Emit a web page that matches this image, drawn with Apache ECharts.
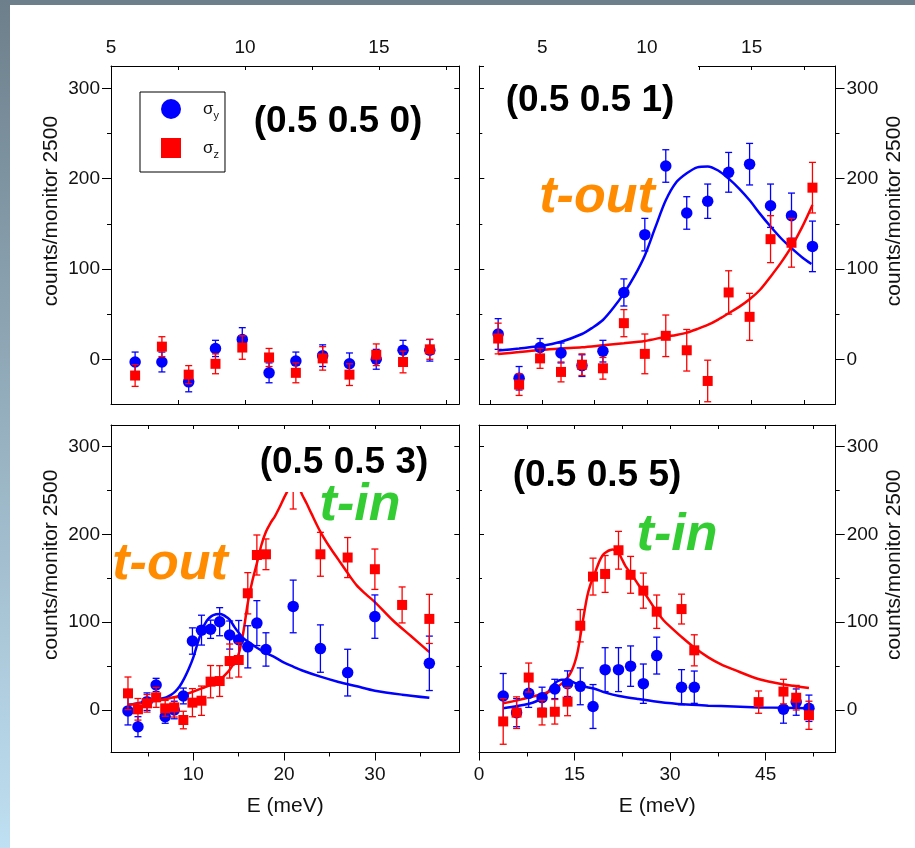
<!DOCTYPE html>
<html>
<head>
<meta charset="utf-8">
<title>σy / σz energy scans</title>
<script src="https://cdn.jsdelivr.net/npm/echarts@6.0.0/dist/echarts.min.js"></script>
<style>
html,body{margin:0;padding:0;background:#ffffff;}
#chart{width:915px;height:848px;}
</style>
</head>
<body>
<div id="chart"></div>
<script>
// ================= DATA =================
// Panel (0.5 0.5 0)
const tlE       = [5.9, 6.9, 7.9, 8.9, 9.9, 10.9, 11.9, 12.9, 13.9, 14.9, 15.9, 16.9];
const tlBlue    = [-3, -3, -25, 12, 22, -15, -2, 4, -5, 0, 10, 10];
const tlBlueErr = [11, 11, 11, 9, 13, 11, 10, 12, 12, 11, 11, 12];
const tlRed     = [-18, 14, -17, -5, 13, 2, -15, 1, -17, 5, -3, 11];
const tlRedErr  = [12, 11, 10, 11, 13, 10, 11, 13, 12, 12, 12, 11];

// Panel (0.5 0.5 1)
const trE       = [2.9, 3.9, 4.9, 5.9, 6.9, 7.9, 8.9, 9.9, 10.9, 11.9, 12.9, 13.9, 14.9, 15.9, 16.9, 17.9];
const trBlue    = [28, -21, 13, 7, -7, 9, 74, 138, 214, 162, 175, 207, 216, 170, 159, 125];
const trBlueErr = [17, 13, 10, 11, 12, 12, 15, 18, 18, 18, 19, 22, 23, 24, 25, 28];
const trRed     = [23, -28, 1, -14, -6, -10, 40, 6, 26, 10, -24, 74, 47, 133, 129, 190];
const trRedErr  = [17, 12, 11, 11, 12, 12, 15, 22, 23, 23, 23, 24, 26, 26, 27, 28];
const trBlueFitE = [2.9, 3.9, 4.9, 5.9, 6.9, 7.4, 7.9, 8.4, 8.9, 9.4, 9.9, 10.4, 10.9, 11.4, 11.9, 12.4, 12.9, 13.4, 13.9, 14.4, 14.9, 15.4, 15.9, 16.4, 16.9, 17.4, 17.85];
const trBlueFit  = [9.6, 12, 14.7, 19.5, 28, 35, 43.5, 57, 73, 92, 115, 146, 176, 196, 206, 212.5, 213.5, 209, 200, 189, 176, 161, 147, 134, 123, 113, 105.5];
const trRedFitE  = [2.9, 3.9, 4.9, 5.9, 6.9, 7.9, 8.9, 9.9, 10.9, 11.4, 11.9, 12.4, 12.9, 13.4, 13.9, 14.4, 14.9, 15.4, 15.9, 16.4, 16.9, 17.4, 17.9];
const trRedFit   = [5.9, 8, 10.3, 12, 13.3, 15.5, 17.7, 20.3, 25, 27, 29.5, 33.5, 38, 44, 51, 58, 66.4, 77, 91.5, 107, 124.7, 146, 170.8];

// Panel (0.5 0.5 3)
const blE       = [2.8, 3.9, 4.9, 5.9, 6.9, 7.9, 8.9, 9.9, 10.9, 11.9, 12.9, 14.0, 15.0, 16.0, 17.0, 18.0, 21.0, 24.0, 27.0, 30.0, 33.0, 36.0];
const blBlue    = [-1, -19, 9.5, 28.5, -7.5, 0, 16, 78.6, 91, 92, 100.6, 85.4, 80, 72, 99, 69, 118, 70, 42.6, 106.4, null, 53.2];
const blBlueErr = [16, 11.4, 10, 7.6, 7.6, 10, 9, 15, 17, 10.4, 16, 16, 22, 24, 25.6, 19, 30, 27, 26.6, 24.7, null, 31];
const blRed     = [19, 0.8, 7.6, 14.4, 1.9, 3, -11.4, 8.4, 10.6, 32.3, 33, 55.8, 57, 133, 176.6, 177.4, 258, 177.4, 173.7, 160.4, 119.7, 103.8];
const blRedErr  = [18.6, 12.3, 10, 11.4, 9, 11, 10, 16, 16.7, 18.4, 17.5, 19.4, 19.4, 23.5, 22.8, 17.5, 29, 25, 22.8, 23, 20.5, 28];
const blBlueFitE = [2.8, 4, 5, 6, 7, 7.5, 8, 8.5, 9, 9.5, 10, 10.5, 11, 11.5, 12, 12.5, 13, 13.5, 14, 14.5, 15, 15.5, 16, 17, 18, 19, 20, 21, 22, 24, 26, 28, 30, 33, 36];
const blBlueFit  = [5.7, 8, 10, 12, 14.4, 17, 21, 27, 36, 47, 60, 77, 92, 102, 107, 109, 109.5, 107, 103, 95, 88, 82, 78, 71, 65, 60, 54, 49.4, 45, 38, 32, 27, 22, 17.5, 14];
const blRedFitE  = [2.8, 4, 5, 6, 7, 8, 9, 10, 11, 12, 12.5, 13, 13.5, 14, 14.5, 15, 15.5, 16, 16.5, 17, 17.5, 18, 18.5, 19, 19.5, 20, 20.5, 21, 21.5, 22, 22.5, 23, 24, 25, 26, 27, 28, 29, 30, 32, 34, 36];
const blRedFit   = [6, 7.5, 9, 10.7, 12.5, 15, 17.5, 21, 25, 29, 32, 35, 40, 46, 54, 64, 88, 122, 147, 167, 188, 203, 213, 221, 231, 242, 252, 262, 256, 245, 235, 224, 203, 186, 171, 156, 142, 132, 123, 102, 84, 66];

// Panel (0.5 0.5 5)
const brE       = [3.8, 5.9, 7.8, 9.9, 11.9, 13.9, 15.9, 17.9, 19.8, 21.9, 23.8, 25.8, 27.9, 31.8, 33.8, 43.9, 47.8, 49.8, 51.8];
const brBlue    = [16, -3, 19, 14, 24, 30, 27, 4, 46, 46, 50, 30, 62, 26, 26, null, 1, 9, 2];
const brBlueErr = [25.6, 16, 16, 12, 11, 14.6, 21, 25, 25, 25, 23, 22.4, 21, 20, 18.4, null, 16, 15, 15];
const brRed     = [-13, -3, 37, -3, -2, 9.5, 96, 152, 155, 182, 154, 136, 112, 115, 68, 9, 21, 14, -6];
const brRedErr  = [26, 18, 16.5, 14, 14, 16, 18.4, 21, 21, 21.5, 21, 20, 19, 17, 17.7, 12.7, 14, 14, 16];
const brBlueFitE = [3.8, 6, 8, 9, 10, 10.5, 11, 11.5, 12, 12.5, 13, 13.5, 14, 15, 16, 17, 18, 20, 22, 25, 28, 32, 36, 40, 44, 48, 51.8];
const brBlueFit  = [2, 4.5, 7.5, 10, 14, 18, 22, 27, 31, 33.5, 34.5, 34.5, 34, 31, 28, 26, 24.5, 19.5, 16, 12.5, 9.5, 6.5, 5, 4, 3, 2.5, 2];
const brRedFitE  = [3.8, 6, 8, 10, 11, 12, 13, 14, 14.5, 15, 15.5, 16, 16.5, 17, 17.5, 18, 18.5, 19, 19.5, 20, 20.5, 21, 21.5, 22, 22.5, 23, 24, 25, 26, 27, 28, 29, 30, 32, 34, 36, 38, 40, 44, 48, 51.8];
const brRedFit   = [7.6, 11, 14.5, 18.5, 21, 25, 30, 38, 44, 53, 67, 88, 110, 130, 143, 152, 162, 171, 177, 180, 182, 183, 181, 178, 171, 164, 154, 143, 133, 122, 111, 102, 95, 82, 70, 60, 52, 46, 35, 29, 25];

// Axis tick / label values
const yMajor = [0, 100, 200, 300];
const yMinor = [50, 150, 250];
const topTicksTop = [7.5, 10, 12.5, 15, 17.5];
const topTicksTR  = [2.5, 5, 7.5, 10, 12.5, 15, 17.5];
const topLabels   = [5, 10, 15];
const blMajor = [10, 20, 30];
const blMinor = [5, 15, 25, 35];
const brMajor = [0, 15, 30, 45];
const brMinor = [7.5, 22.5, 37.5, 52.5];
const brAll   = [7.5, 15, 22.5, 30, 37.5, 45, 52.5];
const blAll   = [5, 10, 15, 20, 25, 30, 35];

const titles = ['(0.5 0.5 0)', '(0.5 0.5 1)', '(0.5 0.5 3)', '(0.5 0.5 5)'];
const yName = 'counts/monitor 2500';
const xName = 'E (meV)';

// ================= BUILD =================
const FONT = "'Liberation Sans', Arial, sans-serif";
const BOLD = "'Liberation Sans', Arial, sans-serif";
const BLUE = '#0000ff', RED = '#ff0000';

const xAxes = [], yAxes = [];
function axis(g, pos, min, max, o) {
  return {
    gridIndex: g, type: 'value', position: pos, min: min, max: max,
    axisLine: {show: !!o.line, onZero: false, lineStyle: {color: '#000', width: 1}},
    axisTick: o.ticks ? {show: true, inside: !!o.inside, length: o.len, customValues: o.ticks,
                         lineStyle: {color: '#000', width: 1}} : {show: false},
    axisLabel: o.labels ? {show: true, customValues: o.labels, margin: o.margin,
                           fontFamily: FONT, fontSize: 19, color: '#111'} : {show: false},
    splitLine: {show: false},
    name: o.name || '', nameLocation: 'middle', nameGap: o.nameGap || 0, nameRotate: o.nameRotate,
    nameTextStyle: {fontFamily: FONT, fontSize: 21, color: '#111', padding: o.namePad || 0},
    silent: true
  };
}
function addX(g, pos, min, max, o) { xAxes.push(axis(g, pos, min, max, o)); return xAxes.length - 1; }
function addY(g, pos, min, max, o) { yAxes.push(axis(g, pos, min, max, o)); return yAxes.length - 1; }

const grids = [
  {left: 111, top: 66, width: 348.3, height: 338},
  {left: 479.3, top: 66, width: 356.2, height: 338},
  {left: 111, top: 425, width: 348.3, height: 327.5},
  {left: 479, top: 425, width: 356.7, height: 327.5}
];
const yr = [[-49.5, 324.7], [-49.5, 324.7], [-48.4, 324.7], [-48.4, 324.7]];
const xr = [[5, 18], [2, 19], [0.93, 39.3], [0, 56]];

function yPair(g, leftLabels) {
  const [a, b] = yr[g];
  const main = addY(g, 'left', a, b, leftLabels
    ? {line: true, ticks: yMajor, len: 9, labels: yMajor, margin: 11, name: yName, nameGap: 49, namePad: [0, 0, 0, 48]}
    : {line: true, ticks: yMajor, len: 5, inside: true});
  addY(g, 'left', a, b, leftLabels ? {ticks: yMinor, len: 4} : {ticks: yMinor, len: 3, inside: true});
  addY(g, 'right', a, b, leftLabels
    ? {line: true, ticks: yMajor, len: 5, inside: true}
    : {line: true, ticks: yMajor, len: 9, labels: yMajor, margin: 11, name: yName, nameGap: 48, nameRotate: 90, namePad: [0, 0, 0, 48]});
  addY(g, 'right', a, b, leftLabels ? {ticks: yMinor, len: 3, inside: true} : {ticks: yMinor, len: 4});
  return main;
}

// panel axes
const xi = [], yi = [];
// TL
xi[0] = addX(0, 'bottom', xr[0][0], xr[0][1], {line: true, ticks: topTicksTop, len: 4, inside: true});
addX(0, 'top', xr[0][0], xr[0][1], {line: true, ticks: topTicksTop, len: 4, inside: true, labels: topLabels, margin: 9});
yi[0] = yPair(0, true);
// TR
xi[1] = addX(1, 'bottom', xr[1][0], xr[1][1], {line: true, ticks: topTicksTR, len: 4, inside: true});
addX(1, 'top', xr[1][0], xr[1][1], {line: true, ticks: topTicksTR, len: 4, inside: true, labels: topLabels, margin: 9});
yi[1] = yPair(1, false);
// BL
xi[2] = addX(2, 'bottom', xr[2][0], xr[2][1], {line: true, ticks: blMajor, len: 8, labels: blMajor, margin: 13, name: xName, nameGap: 43});
addX(2, 'bottom', xr[2][0], xr[2][1], {ticks: blMinor, len: 4});
addX(2, 'top', xr[2][0], xr[2][1], {line: true, ticks: blAll, len: 4, inside: true});
yi[2] = yPair(2, true);
// BR
xi[3] = addX(3, 'bottom', xr[3][0], xr[3][1], {line: true, ticks: brMajor, len: 8, labels: brMajor, margin: 13, name: xName, nameGap: 43});
addX(3, 'bottom', xr[3][0], xr[3][1], {ticks: brMinor, len: 4});
addX(3, 'top', xr[3][0], xr[3][1], {line: true, ticks: brAll, len: 4, inside: true});
yi[3] = yPair(3, false);

function pts(E, V) { const o = []; E.forEach((e, i) => { if (V[i] != null) o.push([e, V[i]]); }); return o; }
function errs(E, V, S) { const o = []; E.forEach((e, i) => { if (V[i] != null) o.push([e, V[i] - S[i], V[i] + S[i]]); }); return o; }

function errSeries(g, data, color, z) {
  return {
    type: 'custom', name: 'err', xAxisIndex: xi[g], yAxisIndex: yi[g], z: z, silent: true,
    encode: {x: 0, y: [1, 2]},
    data: data,
    renderItem: function (params, api) {
      const x = api.value(0);
      const lo = api.coord([x, api.value(1)]);
      const hi = api.coord([x, api.value(2)]);
      const w = 3.5;
      const st = {stroke: color, lineWidth: 1.3};
      return {type: 'group', children: [
        {type: 'line', shape: {x1: hi[0], y1: hi[1], x2: lo[0], y2: lo[1]}, style: st},
        {type: 'line', shape: {x1: hi[0] - w, y1: hi[1], x2: hi[0] + w, y2: hi[1]}, style: st},
        {type: 'line', shape: {x1: lo[0] - w, y1: lo[1], x2: lo[0] + w, y2: lo[1]}, style: st}
      ]};
    }
  };
}
function fitSeries(g, E, V, color) {
  return {
    type: 'line', name: 'fit', xAxisIndex: xi[g], yAxisIndex: yi[g], z: 2, silent: true,
    data: pts(E, V), showSymbol: false, symbol: 'none', smooth: 0.3,
    lineStyle: {color: color, width: 2.5}
  };
}
function panelSeries(g, E, b, be, r, re, fits) {
  const s = [];
  if (fits) { s.push(fitSeries(g, fits[0], fits[1], BLUE)); s.push(fitSeries(g, fits[2], fits[3], RED)); }
  s.push(errSeries(g, errs(E, b, be), BLUE, 3));
  s.push({type: 'scatter', name: 'σy', xAxisIndex: xi[g], yAxisIndex: yi[g], z: 3, data: pts(E, b),
          symbol: 'circle', symbolSize: 11.5, itemStyle: {color: BLUE, opacity: 1}});
  s.push(errSeries(g, errs(E, r, re), RED, 4));
  s.push({type: 'scatter', name: 'σz', xAxisIndex: xi[g], yAxisIndex: yi[g], z: 4, data: pts(E, r),
          symbol: 'rect', symbolSize: 10, itemStyle: {color: RED, opacity: 1}});
  return s;
}

const series = [].concat(
  panelSeries(0, tlE, tlBlue, tlBlueErr, tlRed, tlRedErr, null),
  panelSeries(1, trE, trBlue, trBlueErr, trRed, trRedErr, [trBlueFitE, trBlueFit, trRedFitE, trRedFit]),
  panelSeries(2, blE, blBlue, blBlueErr, blRed, blRedErr, [blBlueFitE, blBlueFit, blRedFitE, blRedFit]),
  panelSeries(3, brE, brBlue, brBlueErr, brRed, brRedErr, [brBlueFitE, brBlueFit, brRedFitE, brRedFit])
);

function txt(text, x, y, size, fill, italic) {
  return {type: 'text', z: 60, silent: true,
    style: {text: text, x: x, y: y, align: 'center', verticalAlign: 'middle',
            fontFamily: BOLD, fontWeight: 'bold', fontStyle: italic ? 'italic' : 'normal',
            fontSize: size, fill: fill}};
}

const option = {
  animation: false,
  backgroundColor: '#ffffff',
  grid: grids,
  xAxis: xAxes,
  yAxis: yAxes,
  legend: {
    left: 140, top: 92, orient: 'vertical',
    padding: [7, 6, 12, 21], itemWidth: 20, itemHeight: 20, itemGap: 17,
    borderColor: '#000', borderWidth: 1, borderRadius: 0, backgroundColor: '#fff',
    selectedMode: false,
    data: [{name: 'σy', icon: 'circle'}, {name: 'σz', icon: 'rect'}],
    formatter: function (n) { return n === 'σy' ? '{s|σ}{b|y}' : '{s|σ}{b|z}'; },
    textStyle: {fontFamily: BOLD, color: '#111', rich: {
      s: {fontSize: 17, fontFamily: BOLD, padding: [0, 0, 0, 17], lineHeight: 24, verticalAlign: 'middle'},
      b: {fontSize: 11, fontFamily: BOLD, lineHeight: 24, verticalAlign: 'bottom', padding: [8, 0, 0, 0]}
    }}
  },
  series: series,
  graphic: [
    {type: 'rect', z: -10, silent: true, shape: {x: 0, y: 0, width: 915, height: 5}, style: {fill: '#6d7f8b'}},
    {type: 'rect', z: -10, silent: true, shape: {x: 0, y: 0, width: 10, height: 848},
     style: {fill: {type: 'linear', x: 0, y: 0, x2: 0, y2: 1,
                    colorStops: [{offset: 0, color: '#6d7f8b'}, {offset: 1, color: '#bfe0f2'}]}}},
    {type: 'rect', z: 50, silent: true, shape: {x: 484, y: 61, width: 214, height: 62}, style: {fill: '#ffffff'}},
    {type: 'rect', z: 50, silent: true, shape: {x: 250, y: 433, width: 190, height: 59}, style: {fill: '#ffffff'}},
    txt(titles[0], 338, 122, 37, '#000'),
    txt(titles[1], 590, 101, 37, '#000'),
    txt(titles[2], 344, 463, 37, '#000'),
    txt(titles[3], 597, 476, 37, '#000'),
    txt('t-out', 597, 198, 52, '#ff8c00', true),
    txt('t-out', 170, 565, 52, '#ff8c00', true),
    txt('t-in', 360, 506, 52, '#33cc33', true),
    txt('t-in', 677, 536, 52, '#33cc33', true)
  ]
};

const chart = echarts.init(document.getElementById('chart'), null, {renderer: 'canvas'});
chart.setOption(option);
</script>
</body>
</html>
